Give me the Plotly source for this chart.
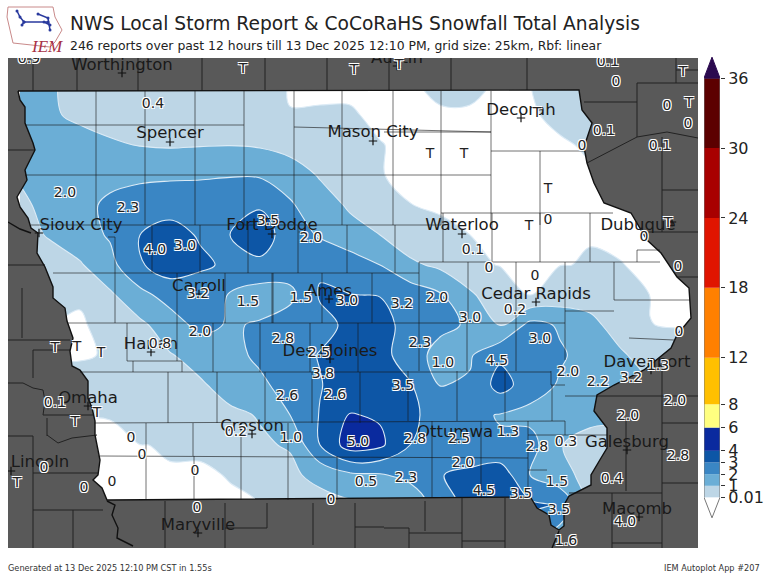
import plotly.graph_objects as go

# analysis grid, x/y are map units of the plot frame
grid_x = [20, 50, 80, 110, 140, 170, 200, 230, 260, 290, 320, 350, 380, 410, 440, 470, 500, 530, 560, 590, 620, 650, 680, 710]
grid_y = [85, 115, 145, 175, 205, 235, 265, 295, 325, 355, 385, 415, 445, 475, 505, 535]
snow = [
    [1.3, 1.1, .7, .6, .5, .5, .4, .3, .1, 0, 0, 0, 0, 0, .03, .03, 0, 0, .5, .5, .3, .3, .3, .3],
    [1.5, 1.1, .85, .7, .6, .5, .5, .5, .4, .014, .015, .015, 0, 0, 0, 0, 0, 0, .03, .3, .3, .3, .3, .3],
    [1.6, 1.5, 1.3, 1.1, .97, .9, .95, .98, .9, .6, .4, .3, .012, 0, 0, 0, 0, 0, 0, .02, .1, .1, .1, .1],
    [1.1, 1.5, 1.6, 1.7, 1.75, 1.85, 1.88, 1.93, 1.9, 1.6, .9, .6, .012, 0, 0, 0, 0, 0, 0, 0, 0, 0, 0, 0],
    [.8, 1.3, 1.7, 2.2, 2.6, 2.6, 2.6, 2.8, 2.9, 2.1, 1.5, .85, .3, .011, 0, 0, 0, 0, 0, 0, 0, 0, 0, 0],
    [.6, 1.1, 1.6, 2.1, 3.0, 3.4, 2.9, 3.0, 3.5, 2.5, 1.9, 1.4, 1.0, .4, .03, .01, 0, 0, 0, 0, 0, 0, 0, 0],
    [.2, .5, .9, 1.7, 2.9, 3.5, 3.2, 2.8, 2.8, 2.6, 2.85, 2.5, 2.0, 1.2, .8, .06, 0, 0, 0, .025, .012, 0, 0, 0],
    [0, .1, .02, .85, 1.7, 2.4, 2.3, 1.95, 1.5, 1.7, 3.1, 3.02, 2.97, 2.6, 2.1, 1.2, .2, .005, .4, .7, .3, .005, 0, 0],
    [0, 0, 0, .04, .8, 1.5, 2.3, 1.9, 2.1, 2.6, 2.7, 3.2, 3.4, 2.6, 2.2, 1.9, .9, 2.3, 1.9, 1.2, .7, .012, 0, 0],
    [0, 0, 0, .018, .5, .95, 1.3, 1.7, 2.2, 2.6, 3.05, 3.6, 3.4, 2.4, 1.7, 1.9, 2.8, 2.7, 2.1, 1.7, 1.1, .7, .1, .1],
    [.05, .05, .05, .2, .5, .7, .9, 1.3, 1.8, 2.4, 2.95, 3.5, 3.6, 3.1, 1.97, 2.1, 3.4, 2.5, 1.9, 1.5, 1.2, 1, 1, 1],
    [.05, .05, .012, .012, .4, .6, .7, .85, 1.05, 2.0, 3.05, 4.05, 3.9, 3.2, 2.6, 2.2, 1.95, 1.7, 1.4, 1.3, 1.2, 1, 1, 1],
    [0, 0, 0, 0, .005, .022, .022, .7, .9, 1.07, 3.0, 4.5, 4.2, 3.0, 2.35, 2.1, 2.1, 2.4, 1.05, .6, .5, .5, .5, .5],
    [0, 0, 0, 0, 0, 0, 0, .0135, .4, .8, 1.3, 1.8, 1.9, 2.3, 2.95, 3.3, 3.6, 2.0, 1.3, .7, .5, .5, .5, .5],
    [0, 0, 0, 0, 0, 0, 0, 0, .005, .4, .6, .8, .8, 1.2, 2.5, 3.3, 3.5, 3.2, 2.9, .8, .5, .5, .5, .5],
    [0, 0, 0, 0, 0, 0, 0, 0, .005, .4, .6, .8, .8, 1.2, 2.5, 3.3, 3.5, 2.4, 1.5, .8, .5, .5, .5, .5],
]
levels = [0.01, 1, 2, 3, 4]
level_colors = ["#bdd6e6", "#6baed6", "#3a86c4", "#0d56a6", "#0a2a9e"]

# state outline, clockwise from the NW corner
iowa_x = [18, 579, 582, 592, 584, 587, 594, 604, 631, 647, 661, 677, 689, 691, 677, 671, 644, 614, 597, 594, 607, 607, 601, 591, 591, 569, 564, 564, 559, 551, 549, 537, 531, 527, 107, 102, 93, 98, 100, 98, 95, 95, 92, 88, 88, 80, 72, 70, 73, 67, 65, 53, 53, 45, 37, 38, 31, 28, 20, 17, 27, 25, 35, 33, 25, 25, 20, 18]
iowa_y = [91, 90, 110, 123, 147, 163, 183, 203, 213, 240, 253, 277, 288, 318, 335, 348, 370, 385, 395, 411, 428, 448, 458, 475, 485, 496, 505, 526, 530, 525, 515, 508, 498, 497, 500, 488, 480, 475, 460, 451, 435, 421, 408, 398, 381, 370, 366, 351, 338, 321, 308, 298, 287, 267, 253, 233, 228, 218, 207, 197, 180, 170, 150, 143, 123, 107, 100, 91]

# county and neighbouring borders as x,y runs split by None
county_x = [
    25, 244, None, 294, 491, None, 384, 491, None, 491, 584, None, 25, 491, None, 31, 441, None, 441, 613, None,
    96, 96, None, 145, 145, None, 195, 195, None, 244, 244, None, 294, 294, None, 342, 342, None, 393, 393, None, 441, 441, None, 491, 491, None, 540, 540, None,
    108, 115, None, 115, 115, None, 152, 152, None, 200, 200, None, 248, 248, None, 298, 298, None, 347, 347, None, 395, 395, None, 443, 443, None, 492, 492, None, 540, 540, None, 590, 590, None,
    419, 660, None, 637, 637, None, 637, 660, None,
    53, 419, None, 419, 419, None, 225, 225, None, 272, 272, None, 372, 372, None, 115, 115, None, 177, 177, None, 273, 273, None, 322, 322, None, 468, 468, None, 516, 516, None, 565, 565, None, 614, 614, None,
    67, 565, None, 565, 614, None, 614, 690, None, 629, 674, None,
    127, 127, None, 133, 133, None, 127, 182, None, 177, 177, None, 182, 182, None, 213, 213, None, 260, 260, None, 310, 310, None, 358, 358, None, 419, 419, None, 467, 467, None, 516, 516, None, 565, 565, None,
    80, 551, None, 551, 551, None, 551, 565, None, 565, 597, None,
    168, 168, None, 217, 217, None, 265, 265, None, 312, 312, None, 360, 360, None, 408, 408, None, 457, 457, None, 505, 505, None, 552, 552, None,
    95, 565, None, 146, 146, None, 193, 193, None, 241, 241, None, 288, 288, None, 432, 432, None, 481, 481, None, 528, 528, None, 565, 565, None, 528, 607, None, 528, 547, None,
    100, 528, None, 146, 146, None, 194, 194, None, 241, 241, None, 288, 288, None, 337, 337, None, 432, 432, None, 481, 481, None, 528, 528, None,
]
county_y = [
    125, 125, None, 127, 132, None, 132, 132, None, 151, 151, None, 175, 175, None, 225, 225, None, 213, 213, None,
    91, 225, None, 91, 225, None, 91, 225, None, 91, 225, None, 91, 225, None, 91, 225, None, 91, 225, None, 91, 225, None, 91, 225, None, 151, 225, None,
    237, 237, None, 237, 273, None, 225, 273, None, 225, 273, None, 225, 273, None, 225, 273, None, 225, 273, None, 225, 273, None, 213, 262, None, 213, 262, None, 213, 262, None, 213, 262, None,
    262, 262, None, 250, 262, None, 250, 250, None,
    273, 273, None, 262, 273, None, 273, 323, None, 273, 323, None, 273, 323, None, 273, 323, None, 273, 323, None, 273, 323, None, 273, 323, None, 262, 323, None, 262, 323, None, 262, 311, None, 262, 300, None,
    323, 323, None, 311, 311, None, 300, 300, None, 338, 340, None,
    323, 361, None, 361, 372, None, 361, 361, None, 323, 361, None, 361, 372, None, 323, 372, None, 323, 372, None, 323, 372, None, 323, 372, None, 273, 371, None, 323, 371, None, 323, 371, None, 311, 360, None,
    372, 372, None, 371, 385, None, 385, 385, None, 396, 396, None,
    372, 423, None, 372, 423, None, 372, 423, None, 372, 423, None, 372, 423, None, 371, 421, None, 371, 421, None, 371, 421, None, 385, 421, None,
    423, 421, None, 423, 456, None, 423, 456, None, 423, 456, None, 423, 456, None, 421, 458, None, 421, 458, None, 421, 458, None, 421, 435, None, 435, 435, None, 470, 470, None,
    456, 458, None, 456, 500, None, 456, 500, None, 456, 500, None, 456, 500, None, 456, 500, None, 458, 498, None, 458, 498, None, 458, 495, None,
]
outside_x = [
    33, 33, None, 77, 77, None, 138, 138, None, 202, 202, None, 265, 265, None, 327, 327, None, 389, 389, None, 451, 451, None, 527, 527, None, 676, 676, None, 637, 637, None, 637, 698, None, 584, 637, None, 676, 698, None,
    662, 662, None, 662, 698, None, 647, 698, None, 677, 698, None, 587, 617, 637, 667, 698, None,
    8, 35, None, 8, 45, None, 22, 22, None, 8, 70, None, 33, 70, None, 33, 33, None, 8, 23, 33, 43, 45, 43, 93, None, 47, 47, None, 8, 33, None, 47, 58, 72, 97, None, 33, 33, None, 33, 98, None, 33, 103, None, 73, 73, None,
    165, 165, None, 225, 225, None, 267, 267, None, 313, 313, None, 355, 355, None, 225, 267, None, 355, 384, None, 425, 425, None, 462, 462, None, 505, 505, None, 384, 409, None, 409, 409, None, 409, 462, None, 462, 505, None,
    597, 698, None, 662, 662, None, 626, 626, None, 612, 612, None, 662, 698, None, 662, 698, None, 569, 662, None, 612, 662, None,
]
outside_y = [
    58, 91, None, 58, 91, None, 58, 91, None, 58, 91, None, 58, 91, None, 58, 91, None, 58, 90, None, 58, 90, None, 58, 90, None, 58, 83, None, 83, 137, None, 83, 83, None, 102, 102, None, 70, 70, None,
    137, 232, None, 190, 190, None, 232, 232, None, 277, 277, None, 163, 147, 137, 132, 138, None,
    150, 150, None, 265, 265, None, 288, 338, None, 340, 340, None, 350, 350, None, 350, 378, None, 383, 383, 388, 390, 401, 415, 415, None, 418, 436, None, 436, 436, None, 435, 443, 438, 435, None, 436, 548, None, 473, 473, None, 510, 510, None, 510, 548, None,
    501, 548, None, 503, 548, None, 503, 528, None, 503, 545, None, 503, 548, None, 528, 528, None, 527, 527, None, 501, 531, None, 498, 548, None, 498, 548, None, 528, 528, None, 528, 548, None, 533, 533, None, 541, 541, None,
    396, 396, None, 370, 548, None, 421, 491, None, 493, 548, None, 423, 423, None, 483, 483, None, 493, 493, None, 543, 543, None,
]
river_x = [107, 115, 112, 118, 117, 133, None, 559, 552, None, 8, 20, 31]
river_y = [501, 505, 515, 528, 538, 546, None, 531, 548, None, 222, 229, 233]

city_names = ["Worthington", "Austin", "Spencer", "Mason City", "Decorah", "Sioux City", "Fort Dodge", "Waterloo", "Dubuque", "Carroll", "Ames", "Cedar Rapids", "Harlan", "Des Moines", "Omaha", "Creston", "Ottumwa", "Davenport", "Galesburg", "Lincoln", "Maryville", "Macomb"]
city_x = [122, 397, 170, 373, 521, 39, 272, 462, 672, 199, 329, 536, 151, 330, 88, 252, 455, 651, 627, 11, 198, 639]
city_y = [73, 66, 142, 141, 118, 233, 234, 234, 222, 294, 299, 302, 352, 359, 406, 434, 440, 370, 450, 471, 533, 517]
name_x = [122, 397, 170, 373, 521, 81, 272, 462, 638, 199, 329, 536, 151, 330, 88, 252, 455, 647, 627, 40, 198, 637]
name_y = [66, 59, 134, 133, 111, 226, 226, 226, 226, 287, 292, 295, 345, 352, 399, 427, 433, 363, 443, 463, 526, 510]

report_text = ["0.9", "T", "T", "T", "0.1", "0", "T", "0", "T", "0", "0.1", "0.1", "0", "T", "T", "T", "T", "0.4", "2.0", "2.3", "3.5", "2.0", "4.0", "3.0", "T", "0", "T", "0", "0.1", "0", "0", "0", "3.2", "1.5", "1.5", "3.0", "3.2", "2.0", "3.0", "0.2", "0", "2.0", "2.8", "2.3", "3.0", "T", "T", "T", "0.8", "2.5", "1.0", "4.5", "2.0", "2.2", "3.2", "1.3", "3.8", "2.6", "2.6", "3.5", "2.0", "2.0", "0.1", "T", "T", "0", "0", "0.2", "1.0", "2.8", "2.5", "1.3", "2.8", "0.3", "5.0", "2.0", "2.8", "0", "T", "0", "0", "0", "0.4", "0.5", "2.3", "1.5", "4.5", "3.5", "0", "0", "3.5", "4.0", "1.6"]
report_x = [29, 243, 354, 399, 608, 616, 683, 667, 689, 688, 660, 604, 582, 537, 430, 464, 548, 153, 65, 128, 268, 311, 155, 185, 529, 548, 668, 644, 473, 489, 535, 678, 198, 248, 301, 347, 402, 437, 470, 515, 679, 200, 283, 420, 540, 55, 77, 101, 160, 319, 443, 497, 568, 598, 631, 658, 323, 287, 335, 403, 628, 675, 55, 97, 75, 131, 142, 236, 291, 415, 459, 508, 537, 566, 358, 463, 678, 44, 17, 84, 112, 195, 612, 366, 406, 557, 484, 521, 331, 197, 559, 625, 566]
report_y = [59, 69, 70, 65, 62, 82, 72, 106, 103, 124, 146, 131, 146, 113, 154, 154, 189, 104, 193, 208, 221, 238, 250, 246, 226, 220, 223, 237, 250, 268, 276, 267, 294, 302, 298, 301, 304, 298, 318, 310, 332, 332, 339, 343, 339, 348, 347, 353, 344, 353, 363, 361, 372, 382, 378, 366, 374, 396, 395, 386, 416, 401, 403, 413, 422, 438, 455, 432, 438, 439, 439, 432, 447, 442, 442, 463, 456, 468, 483, 488, 482, 471, 479, 482, 478, 482, 491, 494, 500, 508, 510, 522, 541]

# colour bar classes
bar_edges = [0.01, 1, 2, 3, 4, 6, 8, 12, 18, 24, 30, 36]
bar_colors = ["#bdd6e6", "#6baed6", "#3a86c4", "#0d56a6", "#0a2a9e", "#ffff80", "#ffc000", "#ff8000", "#e01500", "#a80000", "#5c0000"]
bar_labels = ["0.01", "1", "2", "3", "4", "6", "8", "12", "18", "24", "30", "36"]

W, H = 768, 576
halo = "-1px -1px 0 #fff,1px -1px 0 #fff,-1px 1px 0 #fff,1px 1px 0 #fff"
frame_left, frame_right, frame_top, frame_bottom = 8, 698, 58, 548

fig = go.Figure()

# one filled layer per threshold, white page shows below 0.01
# plotly shades the side the constraint leaves out, so <= paints the high side
for level, color in zip(levels, level_colors):
    fig.add_trace(go.Contour(
        x=grid_x, y=grid_y, z=snow,
        contours=dict(type="constraint", operation="<=", value=level),
        fillcolor=color,
        line=dict(color="#dcebf6", width=1.1, smoothing=1),
        showscale=False, hoverinfo="skip",
    ))

# dark area outside of the state, one path with a cut into the outline
# the outline runs the other way round here so that it leaves a hole
mask_x = [frame_left, frame_left, frame_right, frame_right, frame_left, frame_left] + iowa_x[::-1] + [frame_left]
mask_y = [91, frame_top, frame_top, frame_bottom, frame_bottom, 91] + iowa_y[::-1] + [91]
fig.add_trace(go.Scatter(x=mask_x, y=mask_y, mode="lines", fill="toself", fillcolor="#595959",
                         line=dict(width=0), hoverinfo="skip"))
fig.add_trace(go.Scatter(x=county_x, y=county_y, mode="lines", line=dict(color="rgba(20,20,20,0.6)", width=1), hoverinfo="skip"))
fig.add_trace(go.Scatter(x=outside_x, y=outside_y, mode="lines", line=dict(color="#222", width=1), hoverinfo="skip"))
fig.add_trace(go.Scatter(x=iowa_x, y=iowa_y, mode="lines", line=dict(color="#111", width=1.4), hoverinfo="skip"))
fig.add_trace(go.Scatter(x=river_x, y=river_y, mode="lines", line=dict(color="#111", width=1.4), hoverinfo="skip"))

# cities
fig.add_trace(go.Scatter(x=city_x, y=city_y, mode="markers",
                         marker=dict(symbol="cross-thin", size=6, line=dict(color="#111", width=1.2)),
                         hoverinfo="skip"))
fig.add_trace(go.Scatter(x=name_x, y=name_y, mode="text", text=city_names, textposition="middle center",
                         textfont=dict(family="DejaVu Sans", size=16.5, color="#1a1a1a"), hoverinfo="skip"))
fig.add_trace(go.Scatter(x=report_x, y=report_y, mode="text", text=report_text, textposition="middle center",
                         textfont=dict(family="DejaVu Sans", size=14, color="#222", shadow=halo),
                         hoverinfo="skip"))

# colour bar
lows = bar_edges[:-1]
heights = [b - a for a, b in zip(bar_edges[:-1], bar_edges[1:])]
fig.add_trace(go.Bar(x=[0.5] * len(lows), y=heights, base=lows, width=1, marker=dict(color=bar_colors, line=dict(width=0)),
                     xaxis="x2", yaxis="y2", hoverinfo="skip"))
fig.add_trace(go.Scatter(x=[0, 0.5, 1, 0], y=[36, 37.8, 36, 36], mode="lines", fill="toself", fillcolor="#2b0a4f",
                         line=dict(color="#2b0a4f", width=1), xaxis="x2", yaxis="y2", hoverinfo="skip"))
fig.add_trace(go.Scatter(x=[0, 0, 0.5, 1, 1], y=[36, 0.01, -1.75, 0.01, 36], mode="lines",
                         line=dict(color="#777", width=1), xaxis="x2", yaxis="y2", hoverinfo="skip"))

# logo
logo_x = [8, 53, 55, 62, 55, 50, 13, 7, 8]
logo_y = [7, 7, 17, 30, 42, 47, 43, 17, 7]
fig.add_trace(go.Scatter(x=logo_x, y=logo_y, mode="lines", line=dict(color="#c98a8a", width=1), xaxis="x3", yaxis="y3", hoverinfo="skip"))
logo_net_x = [17, 20, 24, 48, None, 38, 48, 50, None, 24, 22, None, 44, 50]
logo_net_y = [11, 17, 22, 22, None, 14, 18, 30, None, 22, 25, None, 22, 25]
fig.add_trace(go.Scatter(x=logo_net_x, y=logo_net_y, mode="lines+markers", line=dict(color="#2a3a9e", width=1.5),
                         marker=dict(size=3, color="#2a3a9e"), xaxis="x3", yaxis="y3", hoverinfo="skip"))

texts = [
    ("NWS Local Storm Report & CoCoRaHS Snowfall Total Analysis", 68, 24, 18.65, "#222", "left"),
    ("246 reports over past 12 hours till 13 Dec 2025 12:10 PM, grid size: 25km, Rbf: linear", 68, 45, 12.4, "#222", "left"),
    ("Generated at 13 Dec 2025 12:10 PM CST in 1.55s", 6, 568, 8.2, "#333", "left"),
    ("IEM Autoplot App #207", 762, 568, 8.2, "#333", "right"),
]
annotations = [dict(text=t, x=px / W, y=1 - py / H, xref="paper", yref="paper", xanchor=anchor, yanchor="middle",
                    showarrow=False, font=dict(family="DejaVu Sans", size=size, color=color))
               for t, px, py, size, color, anchor in texts]
annotations.append(dict(text="<i>IEM</i>", x=29 / W, y=1 - 35 / H, xref="paper", yref="paper", showarrow=False,
                        font=dict(family="Liberation Serif", size=17, color="#a83246")))

fig.update_layout(
    width=W, height=H, margin=dict(l=0, r=0, t=0, b=0),
    paper_bgcolor="white", plot_bgcolor="white", showlegend=False, annotations=annotations,
    xaxis=dict(domain=[frame_left / W, frame_right / W], range=[frame_left, frame_right], visible=False),
    yaxis=dict(domain=[1 - frame_bottom / H, 1 - frame_top / H], range=[frame_bottom, frame_top], visible=False),
    xaxis2=dict(domain=[704 / W, 720 / W], range=[0, 1], visible=False),
    yaxis2=dict(domain=[1 - 519 / H, 1 - 56 / H], range=[-1.85, 37.9], anchor="x2", side="right",
                tickmode="array", tickvals=bar_edges, ticktext=bar_labels, ticks="outside", ticklen=4,
                tickcolor="#333", tickfont=dict(family="DejaVu Sans", size=16, color="#222"),
                showgrid=False, zeroline=False, showline=False),
    xaxis3=dict(domain=[0, 70 / W], range=[0, 70], visible=False),
    yaxis3=dict(domain=[1 - 50 / H, 1], range=[50, 0], visible=False, anchor="x3"),
)

fig.write_html("out.html", post_script="document.body.style.margin='0';", config={"displayModeBar": False})
